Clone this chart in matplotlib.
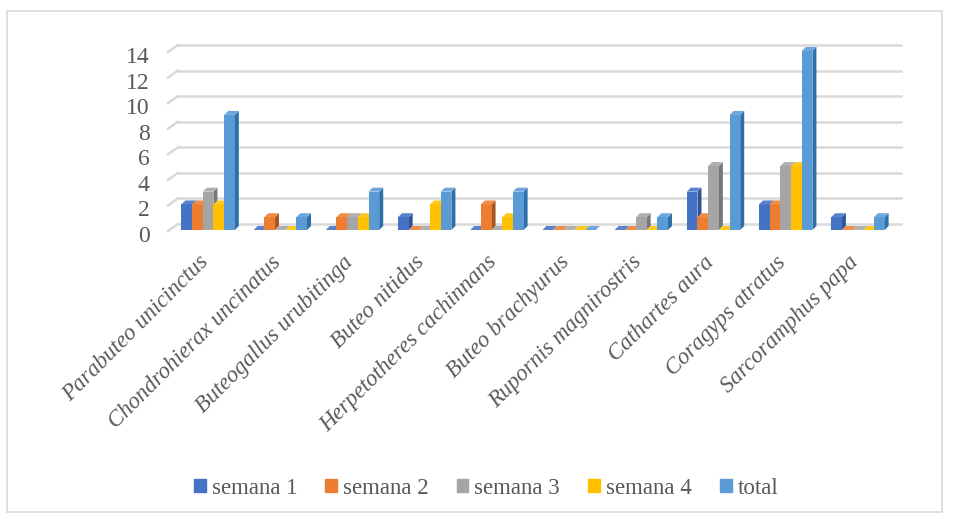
import matplotlib
matplotlib.use("Agg")
import matplotlib.pyplot as plt
import matplotlib.transforms as mtransforms
from matplotlib.patches import Rectangle, Patch, Polygon
from matplotlib.colors import to_rgb
import numpy as np

species = ["Parabuteo unicinctus", "Chondrohierax uncinatus", "Buteogallus urubitinga",
           "Buteo nitidus", "Herpetotheres cachinnans", "Buteo brachyurus",
           "Rupornis magnirostris", "Cathartes aura", "Coragyps atratus", "Sarcoramphus papa"]
semana1 = [2, 0, 0, 1, 0, 0, 0, 3, 2, 1]
semana2 = [2, 1, 1, 0, 2, 0, 0, 1, 2, 0]
semana3 = [3, 0, 1, 0, 0, 0, 1, 5, 5, 0]
semana4 = [2, 0, 1, 2, 1, 0, 0, 0, 5, 0]
total = [9, 1, 3, 3, 3, 0, 1, 9, 14, 1]
series_names = ["semana 1", "semana 2", "semana 3", "semana 4", "total"]
yticks = [0, 2, 4, 6, 8, 10, 12, 14]

colors = ["#4472C4", "#ED7D31", "#A5A5A5", "#FFC000", "#5B9BD5"]
dark = ["#2F5597", "#A9561E", "#777777", "#B98B00", "#2E6FA8"]


def lighten(c, f=0.12):
    r, g, b = to_rgb(c)
    return (r + (1 - r) * f, g + (1 - g) * f, b + (1 - b) * f)


plt.rcParams['font.family'] = ['Liberation Serif', 'DejaVu Serif']

W, H = 958, 518
fig = plt.figure(figsize=(W / 100, H / 100), dpi=100)
# front plane: value 0 at y=230 px, 14 at y=51 px; categories centred 208..858 px
ax = fig.add_axes([172 / W, 1 - 230 / H, (894 - 172) / W, (230 - 51) / H])
ax.set_xlim(-0.5, 9.5)
ax.set_ylim(0, 14)
ax.set_autoscale_on(False)
ax.set_facecolor("none")

# back wall gridlines
gx0, gx1 = 178, 901
for t in yticks:
    yf = ax.transData.transform((0, t))[1]
    yb = yf + 6
    ax.add_artist(plt.Line2D([gx0, gx1], [yb, yb], color="#D9D9D9", lw=1.8,
                             transform=mtransforms.IdentityTransform(), zorder=0, clip_on=False))
    ax.add_artist(plt.Line2D([168, gx0], [yf - 1, yb], color="#D9D9D9", lw=1.8,
                             transform=mtransforms.IdentityTransform(), zorder=0, clip_on=False))

all_series = [semana1, semana2, semana3, semana4, total]
x = np.arange(len(species))
w = 0.148
offsets = (np.arange(5) - 2) * w
d = 4.0  # depth in pixels

ident = mtransforms.IdentityTransform()
for i, vals in enumerate(all_series):
    bars = ax.bar(x + offsets[i], vals, width=w, color=colors[i], lw=0,
                  zorder=2 + i * 0.1 + 0.05, clip_on=False)
    for b in bars:
        x0, y0 = b.get_x(), b.get_y()
        x1, y1 = x0 + b.get_width(), y0 + b.get_height()
        (px0, py0), (px1, py1) = ax.transData.transform([(x0, y0), (x1, y1)])
        side = Polygon([(px1, py0), (px1 + d, py0 + d), (px1 + d, py1 + d), (px1, py1)],
                       closed=True, facecolor=dark[i], edgecolor="none",
                       transform=ident, zorder=2 + i * 0.1, clip_on=False)
        top = Polygon([(px0, py1), (px1, py1), (px1 + d, py1 + d), (px0 + d, py1 + d)],
                      closed=True, facecolor=lighten(colors[i]), edgecolor="none",
                      transform=ident, zorder=2 + i * 0.1 + 0.06, clip_on=False)
        ax.add_artist(side)
        ax.add_artist(top)

ax.set_yticks(yticks)
ax.set_yticklabels([str(t) for t in yticks])
ax.tick_params(axis="y", length=0, pad=16, labelsize=17, labelcolor="#595959")
for lab in ax.get_yticklabels():
    lab.set_transform(lab.get_transform() + mtransforms.ScaledTranslation(0, -4 / 100, fig.dpi_scale_trans))

ax.set_xticks(x)
ax.set_xticklabels(species, rotation=45, ha="right", va="center", rotation_mode="anchor",
                   style="italic", fontsize=16.5, color="#595959")
ax.tick_params(axis="x", length=0, pad=21)
for lab in ax.get_xticklabels():
    lab.set_transform(lab.get_transform() + mtransforms.ScaledTranslation(-3 / 100, 0, fig.dpi_scale_trans))

for s in ax.spines.values():
    s.set_visible(False)

handles = [Patch(facecolor=c, edgecolor=c) for c in colors]
fig.legend(handles, series_names, loc="center", bbox_to_anchor=(486 / W, 1 - 488 / H),
           ncol=5, frameon=False, fontsize=16.5, handlelength=0.52, handleheight=0.52,
           handletextpad=0.26, columnspacing=1.22, labelcolor="#595959",
           borderpad=0, borderaxespad=0)

fig.patches.append(Rectangle((7 / W, 1 - 512 / H), (942 - 7) / W, (512 - 11) / H,
                             transform=fig.transFigure, fill=False, edgecolor="#D9D9D9", lw=1.2))

fig.savefig("out.png", dpi=100)
